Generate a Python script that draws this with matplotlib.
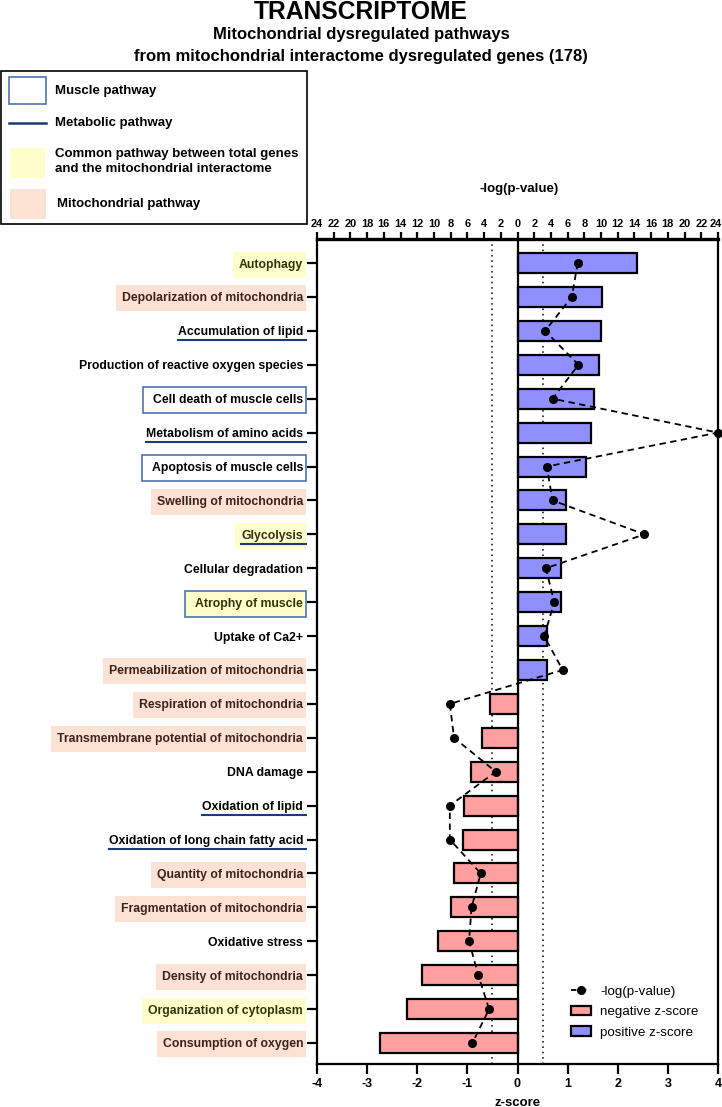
import numpy as np
import matplotlib
matplotlib.use("Agg")
import matplotlib.pyplot as plt
from matplotlib.patches import Rectangle, Patch
from matplotlib.lines import Line2D
from matplotlib.transforms import ScaledTranslation

plt.rcParams['font.family'] = ['Liberation Sans', 'DejaVu Sans']

###### Data (top row first)
pathways = [
    "Autophagy", "Depolarization of mitochondria", "Accumulation of lipid",
    "Production of reactive oxygen species", "Cell death of muscle cells",
    "Metabolism of amino acids", "Apoptosis of muscle cells",
    "Swelling of mitochondria", "Glycolysis", "Cellular degradation",
    "Atrophy of muscle", "Uptake of Ca2+", "Permeabilization of mitochondria",
    "Respiration of mitochondria", "Transmembrane potential of mitochondria",
    "DNA damage", "Oxidation of lipid", "Oxidation of long chain fatty acid",
    "Quantity of mitochondria", "Fragmentation of mitochondria",
    "Oxidative stress", "Density of mitochondria", "Organization of cytoplasm",
    "Consumption of oxygen",
]
zscore = [2.38, 1.68, 1.67, 1.63, 1.53, 1.46, 1.36, 0.97, 0.97, 0.87, 0.87,
          0.59, 0.59, -0.54, -0.70, -0.92, -1.06, -1.08, -1.26, -1.32, -1.59,
          -1.90, -2.20, -2.75]
neglogp = [7.2, 6.5, 3.3, 7.3, 4.2, 24.0, 3.5, 4.2, 15.2, 3.4, 4.4, 3.2, 5.4,
           8.1, 7.6, 2.6, 8.1, 8.1, 4.4, 5.5, 5.8, 4.7, 3.4, 5.4]
# Y = common pathway, P = mitochondrial, B = muscle (box), U = metabolic (underline)
styles = ["Y", "P", "U", "", "B", "U", "B", "P", "YU", "", "YB", "", "P",
          "P", "P", "", "U", "U", "P", "P", "", "P", "Y", "P"]

top_ticks = list(range(-24, 25, 2))
z_ticks = [-4, -3, -2, -1, 0, 1, 2, 3, 4]

YELLOW = "#FFFFCC"
PEACH = "#FBE2D2"
BOXBLUE = "#4F74B0"
NAVY = "#1F3A7A"
POS = "#8F8FFF"
NEG = "#FF9F9F"

W, H = 722, 1107
fig = plt.figure(figsize=(W / 100, H / 100), dpi=100)

def fx(x): return x / W
def fy(y): return 1 - y / H

ax = fig.add_axes([fx(317), fy(1064), fx(718) - fx(317), fy(239) - fy(1064)])

n = len(pathways)
ypos = np.arange(n)
z = np.array(zscore)
colors = [POS if v > 0 else NEG for v in z]

ax.axvline(-0.5, color="black", ls=(0, (1, 2.5)), lw=1.1, zorder=1)
ax.axvline(0.5, color="black", ls=(0, (1, 2.5)), lw=1.1, zorder=1)
ax.barh(ypos, z, height=0.59, color=colors, edgecolor="black", lw=1.6, zorder=2)
ax.axvline(0, color="black", lw=1.6, zorder=3)

# -log(p) drawn on the side of its z-score, 6 units per z unit
px = np.sign(z) * np.array(neglogp) / 6.0
ax.plot(px, ypos, color="black", ls=(0, (3.5, 2.5)), lw=1.3, marker="o",
        ms=5.5, zorder=4, clip_on=False)

ax.set_xlim(-4, 4)
ax.set_ylim(n - 1 + 0.62, -0.71)
ax.set_xticks(z_ticks)
ax.set_xticklabels([str(t) for t in z_ticks], fontsize=9, fontweight="bold")
ax.set_yticks(ypos)
ax.set_yticklabels(pathways, fontsize=8.8, fontweight="bold")
ax.tick_params(axis="y", length=7, width=1.6, pad=3)
ax.tick_params(axis="x", length=7, width=1.6, pad=3)
for s in ax.spines.values():
    s.set_linewidth(1.6)
ax.spines["top"].set_linewidth(2.4)
ax.set_xlabel("z-score", fontsize=9.5, fontweight="bold", labelpad=5)

top = ax.twiny()
top.set_xlim(-4, 4)
top.set_xticks([t / 6 for t in top_ticks])
top.set_xticklabels([str(abs(t)) for t in top_ticks], fontsize=7.9, fontweight="bold")
top.tick_params(axis="x", length=5, width=1.6, pad=2)
last = top.get_xticklabels()[-1]
last.set_transform(last.get_transform() + ScaledTranslation(-2.5 / 100, 0, fig.dpi_scale_trans))
for s in top.spines.values():
    s.set_visible(False)

for lbl, st in zip(ax.get_yticklabels(), styles):
    if "Y" in st:
        lbl.set_color("#33330A")
    elif "P" in st:
        lbl.set_color("#3A2418")

handles = [
    Line2D([], [], color="black", ls=(0, (3, 2.5)), lw=1.3, marker="o", ms=5.5),
    Patch(facecolor=NEG, edgecolor="black", lw=1.6),
    Patch(facecolor=POS, edgecolor="black", lw=1.6),
]
ax.legend(handles, ["-log(p-value)", "negative z-score", "positive z-score"],
          loc="upper left", bbox_to_anchor=((571 - 317) / 401, (1064 - 985) / 825),
          frameon=False, fontsize=9.6, handlelength=1.5, handleheight=0.75,
          handletextpad=0.7, labelspacing=0.6, borderaxespad=0, borderpad=0)

# titles
fig.text(0.5, fy(12), "TRANSCRIPTOME", ha="center", va="center", fontsize=17.7,
         fontweight="bold")
fig.text(0.5, fy(35), "Mitochondrial dysregulated pathways", ha="center",
         va="center", fontsize=12, fontweight="bold")
fig.text(0.5, fy(56), "from mitochondrial interactome dysregulated genes (178)",
         ha="center", va="center", fontsize=12, fontweight="bold")
fig.text(fx(519), fy(189), "-log(p-value)", ha="center", va="center",
         fontsize=9.5, fontweight="bold")

# top-left key
fig.add_artist(Rectangle((fx(1), fy(224)), fx(307) - fx(1), fy(71) - fy(224),
                         transform=fig.transFigure, fill=False, ec="black", lw=1.2))
fig.add_artist(Rectangle((fx(9), fy(104)), fx(37), fy(77) - fy(104),
                         transform=fig.transFigure, fc="white", ec=BOXBLUE, lw=1.2))
fig.add_artist(Line2D([fx(9), fx(46)], [fy(123), fy(123)],
                      transform=fig.transFigure, color=NAVY, lw=1.8))
fig.add_artist(Rectangle((fx(10), fy(178)), fx(35), fy(148) - fy(178),
                         transform=fig.transFigure, fc=YELLOW, ec="none"))
fig.add_artist(Rectangle((fx(10), fy(219)), fx(36), fy(189) - fy(219),
                         transform=fig.transFigure, fc=PEACH, ec="none"))
key_kw = dict(fontsize=9.5, fontweight="bold", va="center", ha="left")
fig.text(fx(55), fy(91), "Muscle pathway", **key_kw)
fig.text(fx(55), fy(123), "Metabolic pathway", **key_kw)
fig.text(fx(55), fy(154), "Common pathway between total genes", **key_kw)
fig.text(fx(55), fy(169), "and the mitochondrial interactome", **key_kw)
fig.text(fx(57), fy(204), "Mitochondrial pathway", **key_kw)

# label decorations, placed from the drawn label extents
fig.canvas.draw()
renderer = fig.canvas.get_renderer()
for lbl, st in zip(ax.get_yticklabels(), styles):
    if not st:
        continue
    bb = lbl.get_window_extent(renderer)
    cy = (bb.y0 + bb.y1) / 2
    x1 = bb.x1 + 3
    if "Y" in st or "P" in st:
        x0 = bb.x0 - (10 if "B" in st else 6)
        fig.add_artist(Rectangle((x0 / W, (cy - 13) / H), (x1 - x0) / W, 26 / H,
                                 transform=fig.transFigure,
                                 fc=YELLOW if "Y" in st else PEACH, ec="none",
                                 zorder=-1))
    if "B" in st:
        x0 = bb.x0 - 10
        fig.add_artist(Rectangle((x0 / W, (cy - 13) / H), (x1 - x0) / W, 26 / H,
                                 transform=fig.transFigure, fill=False,
                                 ec=BOXBLUE, lw=1.2, zorder=-1))
    if "U" in st:
        fig.add_artist(Line2D([bb.x0 / W, x1 / W], [(cy - 8) / H, (cy - 8) / H],
                              transform=fig.transFigure, color=NAVY, lw=1.5,
                              zorder=-1))

fig.savefig("out.png", dpi=100)
